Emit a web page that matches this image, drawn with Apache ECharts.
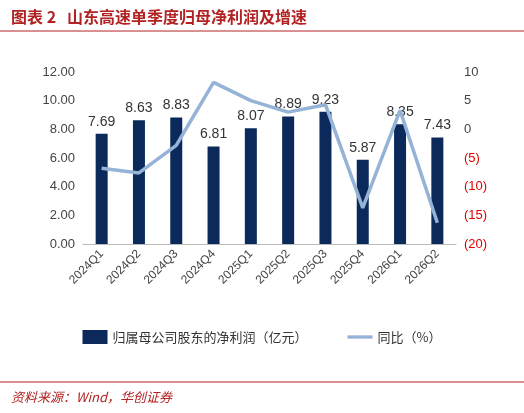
<!DOCTYPE html><html><head><meta charset="utf-8"><script src="https://cdn.jsdelivr.net/npm/echarts@6/dist/echarts.min.js"></script></head><body style="margin:0"><div id="c" style="width:524px;height:413px"></div><script>
const categories=['2024Q1','2024Q2','2024Q3','2024Q4','2025Q1','2025Q2','2025Q3','2025Q4','2026Q1','2026Q2'];
const profit=[7.69,8.63,8.83,6.81,8.07,8.89,9.23,5.87,8.35,7.43];
const yoy=[-6.8,-7.6,-2.8,8.2,5.0,3.0,4.3,-13.7,3.3,-16.3];
const c=echarts.init(document.getElementById('c'));
c.setOption({
title:[{text:'图表 2   山东高速单季度归母净利润及增速',left:6,top:4,textStyle:{color:'#B22222',fontSize:16,fontWeight:'bold',fontFamily:'Noto Sans CJK SC'}},
{text:'资料来源：Wind，华创证券',left:6,top:386,textStyle:{color:'#B22222',fontSize:13,fontStyle:'italic',fontWeight:'normal',fontFamily:'Noto Sans CJK SC'}}],
graphic:[{type:'line',shape:{x1:0,y1:31,x2:524,y2:31},style:{stroke:'#B22222',lineWidth:1}},{type:'line',shape:{x1:0,y1:382,x2:524,y2:382},style:{stroke:'#B22222',lineWidth:1}}],
legend:{bottom:64,left:'center',itemGap:40,textStyle:{fontSize:13,color:'#333',fontFamily:'Noto Sans CJK SC'},data:[{name:'归属母公司股东的净利润（亿元）',icon:'rect'},{name:'同比（%）',icon:'path://M0,0H30V4H0Z'}]},
grid:{left:83,right:68,top:72,bottom:169},
xAxis:{type:'category',data:categories,axisTick:{show:false},axisLine:{lineStyle:{color:'#bbb'}},axisLabel:{rotate:45,fontSize:12,color:'#444',fontFamily:'Liberation Sans'}},
yAxis:[{type:'value',min:0,max:12,interval:2,splitLine:{show:false},axisLabel:{formatter:v=>v.toFixed(2),fontSize:13,color:'#444',fontFamily:'Liberation Sans'}},
{type:'value',min:-20,max:10,interval:5,splitLine:{show:false},axisLabel:{fontSize:13,fontFamily:'Liberation Sans',formatter:v=>v<0?'('+(-v)+')':v,color:v=>v<0?'#E00000':'#444'}}],
series:[{name:'归属母公司股东的净利润（亿元）',type:'bar',data:profit,barWidth:12,itemStyle:{color:'#0B2A5B'},label:{show:true,position:'top',fontSize:14,color:'#333',fontFamily:'Liberation Sans'}},
{name:'同比（%）',type:'line',yAxisIndex:1,data:yoy,symbol:'none',lineStyle:{width:3.5,color:'#95B3D7'},itemStyle:{color:'#95B3D7'}}]
});
</script></body></html>
